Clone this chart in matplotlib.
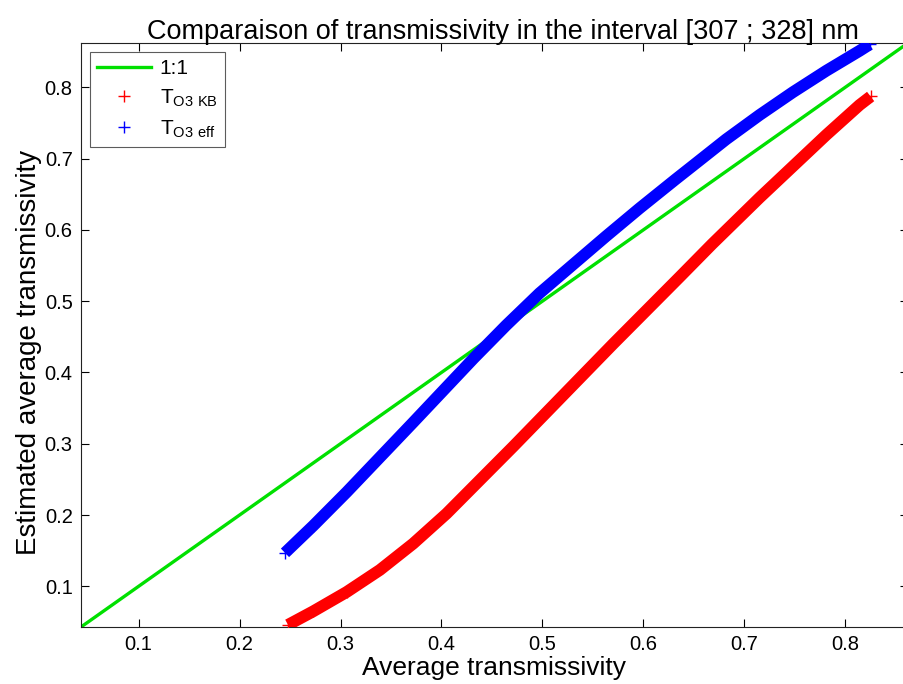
import matplotlib
matplotlib.use('Agg')
import matplotlib.pyplot as plt

plt.rcParams['font.family'] = ['Liberation Sans', 'DejaVu Sans']
plt.rcParams['mathtext.default'] = 'regular'

# values
kb_x = [0.248, 0.273, 0.306, 0.339, 0.372, 0.405, 0.438, 0.471, 0.504, 0.537,
        0.570, 0.603, 0.636, 0.668, 0.715, 0.748, 0.781, 0.814, 0.825]
kb_y = [0.046, 0.065, 0.092, 0.123, 0.160, 0.202, 0.249, 0.296, 0.344, 0.392,
        0.440, 0.487, 0.534, 0.580, 0.645, 0.689, 0.733, 0.775, 0.787]

eff_x = [0.245, 0.273, 0.306, 0.339, 0.372, 0.402, 0.432, 0.464, 0.497, 0.530,
         0.563, 0.596, 0.632, 0.649, 0.682, 0.715, 0.748, 0.781, 0.814, 0.824]
eff_y = [0.147, 0.185, 0.232, 0.281, 0.330, 0.375, 0.420, 0.466, 0.511, 0.551,
         0.591, 0.630, 0.671, 0.690, 0.727, 0.761, 0.793, 0.823, 0.851, 0.860]

lims = [0.043, 0.862]

fig = plt.figure(figsize=(9.04, 6.84), dpi=100)
ax = fig.add_axes([81 / 904, 57 / 684, 827 / 904, 584 / 684])

ax.plot(lims, lims, color='#00e000', lw=2.4, label='1:1')
ax.plot(kb_x, kb_y, color='#ff0000', lw=8.5, solid_capstyle='butt',
        solid_joinstyle='round', zorder=3)
ax.plot(kb_x[:3] + kb_x[-1:], kb_y[:3] + kb_y[-1:], '+', color='#ff0000', ms=8, mew=1, zorder=3)
ax.plot(eff_x, eff_y, color='#0000ff', lw=8.5, solid_capstyle='butt',
        solid_joinstyle='round', zorder=4)
ax.plot(eff_x[:2] + eff_x[-1:], eff_y[:2] + eff_y[-1:], '+', color='#0000ff', ms=8, mew=1, zorder=4)

# legend handles
ax.plot([], [], '+', color='#ff0000', ms=8, label='$T_{O3\\ KB}$')
ax.plot([], [], '+', color='#0000ff', ms=8, label='$T_{O3\\ eff}$')
h, l = ax.get_legend_handles_labels()
leg = ax.legend(h, l, loc='upper left', fontsize=15, frameon=True, fancybox=False,
                edgecolor='#333333', handlelength=2.6, handletextpad=0.4,
                borderpad=0.35, labelspacing=0.45, borderaxespad=0,
                bbox_to_anchor=(9 / 827, 1 - 9 / 584))
leg.get_frame().set_linewidth(0.8)

ax.set_xlim(lims)
ax.set_ylim(lims)
ticks = [0.1, 0.2, 0.3, 0.4, 0.5, 0.6, 0.7, 0.8]
ax.set_xticks(ticks)
ax.set_yticks(ticks)
ax.set_xticklabels([str(t) for t in ticks])
ax.set_yticklabels([str(t) for t in ticks])
ax.tick_params(direction='in', top=True, right=True, labelsize=14.5, length=6, width=0.8, pad=6)
for s in ax.spines.values():
    s.set_linewidth(0.8)
    s.set_color('#222222')

ax.set_xlabel('Average transmissivity', fontsize=19, labelpad=1)
ax.set_ylabel('Estimated average transmissivity', fontsize=20, labelpad=2)
ax.yaxis.label.set_y(0.47)
ax.set_title('Comparaison of transmissivity in the interval [307 ; 328] nm', fontsize=19.5, pad=3, x=0.51)

fig.savefig('out.png', dpi=100)
